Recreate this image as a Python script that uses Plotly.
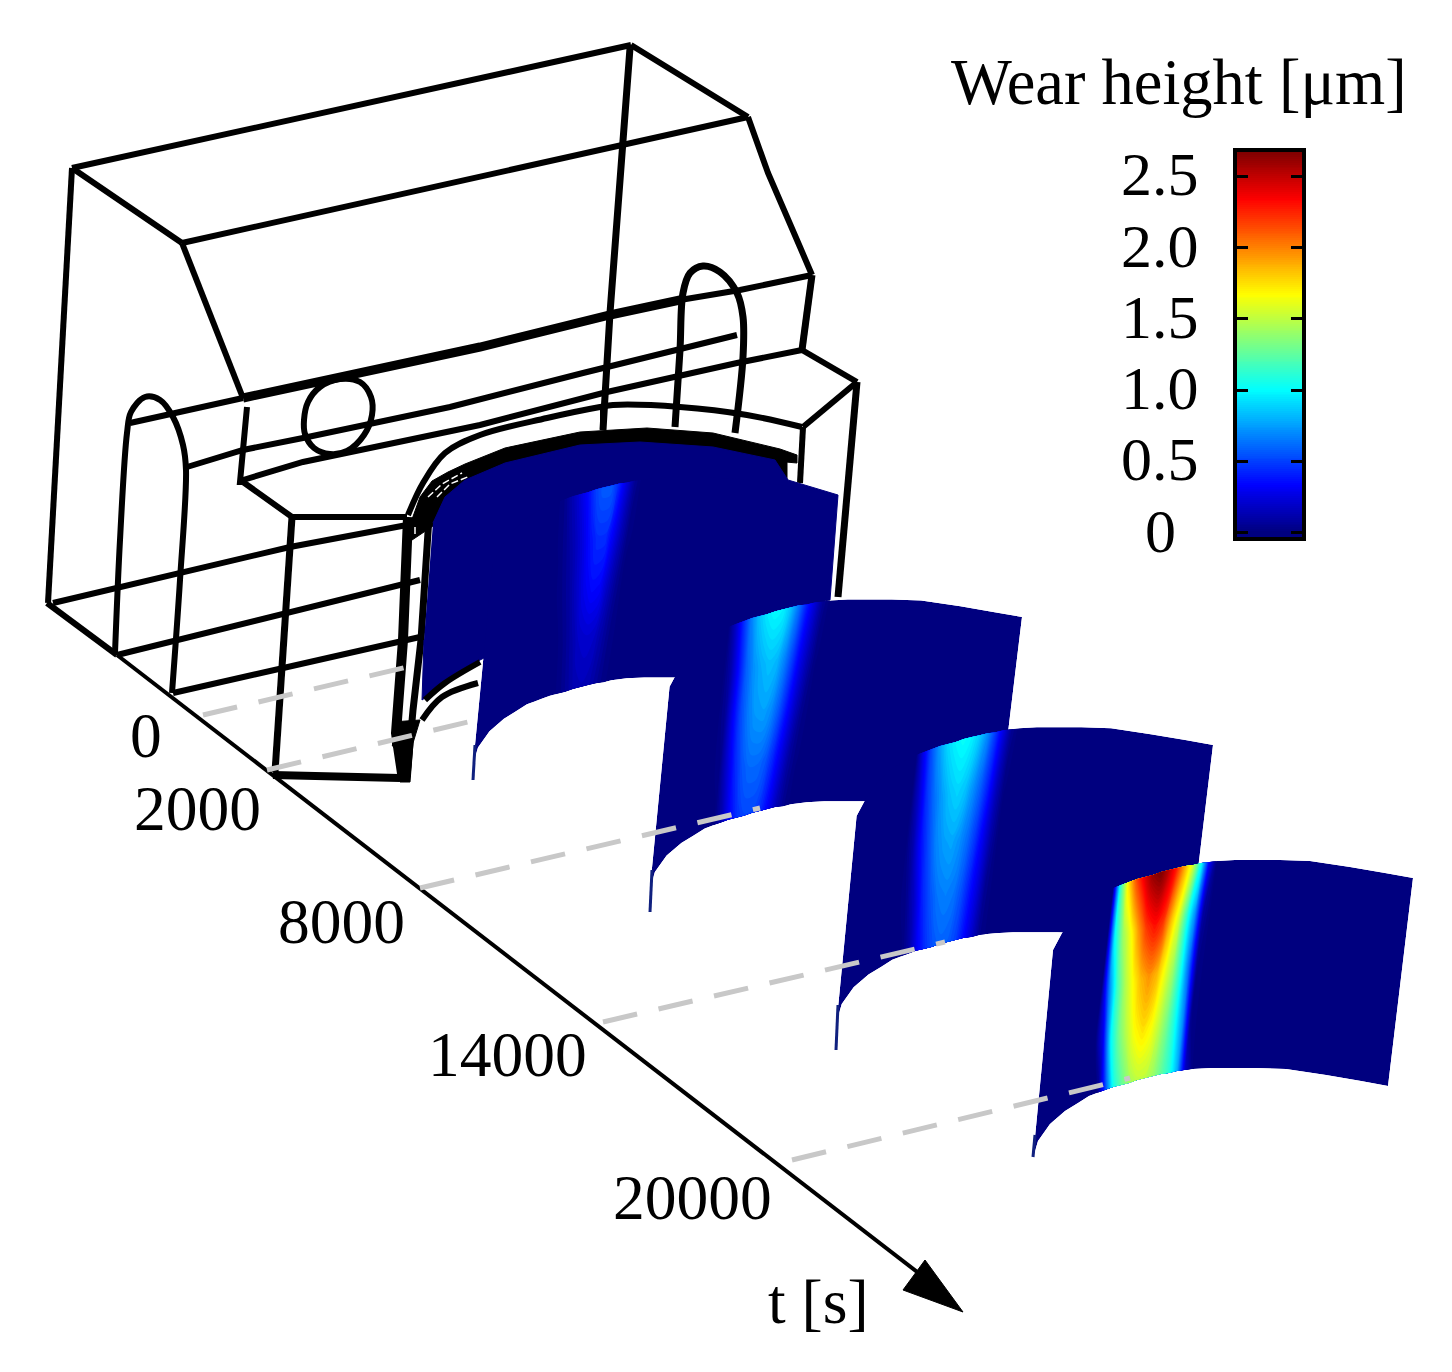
import numpy as np
import plotly.graph_objects as go

# ---- labels and values ----
TIME_LABELS = ["0", "2000", "8000", "14000", "20000"]
TIME_LABEL_X = [146, 197, 341, 507, 692]
TIME_LABEL_Y = [735, 808, 921, 1054, 1197]
CB_TICKS = [0, 0.5, 1.0, 1.5, 2.0, 2.5]
CB_LABELS = ["0", "0.5", "1.0", "1.5", "2.0", "2.5"]
WEAR_MAX = 2.67

# sheet outline (top edge of the 20000 s sheet; other sheets are placed from it)
TOP_X = [1053,1062,1074,1087,1100,1113,1121,1129,1137,1145,1153,1161,1169,1177,1185,1193,1201,1209,1217,1235,1253,1280,1310,1350,1385,1413]
TOP_Y = [950,933,916,903,895,888,885,882,879,877,875,872,870,868,866,865,863,862,861,860,860,860,861,867,873,878]
DROP_X = [-20,-24,-24,-22,-22,-24,-24,-24,-24,-24,-24,-24,-24,-24,-24,-24,-24,-24,-24,-24,-24,-24,-24,-24,-24,-25]
DROP_Y = 208
SHEET_TR = {"2000": (838,495), "8000": (1022,617), "14000": (1213,745), "20000": (1413,878)}
SHEET_SCALE = {"2000": (0.96,0.96), "8000": (0.979,0.97), "14000": (0.99,0.985), "20000": (1,1)}

# wear [um]: rows run top to bottom of a sheet, columns are the stations TOP_X[5:19]
WEAR_2000 = [
 [0,0,.05,.15,.25,.36,.50,.58,.58,.44,.25,.08,0,0],
 [0,0,.02,.08,.16,.26,.38,.46,.46,.32,.16,.03,0,0],
 [0,0,0,.04,.10,.20,.30,.36,.34,.20,.08,0,0,0],
 [0,0,0,0,.05,.12,.20,.22,.20,.12,.04,0,0,0],
 [0,0,0,0,.02,.08,.14,.16,.14,.08,.02,0,0,0]]
WEAR_8000 = [
 [0,.20,.45,.68,.85,.95,1.00,.98,.85,.65,.42,.25,.08,0],
 [0,.12,.35,.58,.72,.80,.85,.82,.68,.50,.30,.15,.02,0],
 [0,.08,.32,.52,.66,.74,.76,.70,.56,.38,.20,.06,0,0],
 [0,.03,.22,.42,.56,.62,.62,.56,.42,.26,.10,.02,0,0],
 [0,0,.12,.32,.46,.52,.52,.46,.32,.16,.05,0,0,0]]
WEAR_14000 = [
 [0,.30,.55,.75,.90,.98,1.02,.98,.88,.72,.50,.28,.08,0],
 [0,.20,.45,.62,.75,.85,.90,.85,.72,.58,.40,.18,.02,0],
 [0,.12,.35,.52,.68,.75,.78,.72,.62,.48,.30,.12,0,0],
 [0,.05,.20,.42,.55,.65,.68,.65,.55,.40,.25,.07,0,0],
 [0,0,.10,.30,.45,.55,.60,.58,.50,.35,.20,.05,0,0]]
WEAR_20000 = [
 [0,1.15,1.75,2.15,2.40,2.60,2.67,2.50,2.25,1.90,1.55,1.05,.35,0],
 [0,1.00,1.40,1.65,1.95,2.20,2.30,2.20,1.85,1.55,1.10,.70,.10,0],
 [0,.65,1.15,1.45,1.67,1.85,1.95,1.85,1.62,1.40,1.05,.60,.05,0],
 [0,.30,1.00,1.30,1.50,1.67,1.75,1.67,1.50,1.30,1.05,.70,.05,0],
 [0,0,.50,1.05,1.25,1.42,1.50,1.50,1.40,1.25,1.10,.80,.20,0]]
WEAR = {"2000": WEAR_2000, "8000": WEAR_8000, "14000": WEAR_14000, "20000": WEAR_20000}
ROW_FRACTIONS = [0, .25, .5, .75, 1]

# t = 0 sheet outline
SHEET0_X = [433,445,465,505,580,640,713,775,788,838,830,500,480,422,424]
SHEET0_Y = [523,497,480,463,445,442,447,460,480,495,600,650,660,700,640]

# sheet tails
TAIL_X = [[475,473],[652,650],[838,836],[1035,1033]]
TAIL_Y = [[745,780],[870,912],[1005,1050],[1135,1157]]

# t-axis
AXIS_THICK = ([47,117],[603,655])
AXIS_THIN = ([117,925],[655,1278])
ARROW_X = [903,963,925,903]
ARROW_Y = [1290,1312,1260,1290]

# dashed leader lines
DASH_LINES = [([203,407],[715,667]), ([267,468],[770,722]), ([420,760],[888,808]),
              ([603,945],[1022,942]), ([792,1130],[1160,1078])]

# holder wireframe: (xs, ys, width, spline)
WIRE = [
 ([48,72],[603,168],6,False),
 ([72,631],[168,45],6,False),
 ([72,182],[168,243],6,False),
 ([182,420,748],[243,190,117],6,False),
 ([631,748],[45,117],6,False),
 ([630,622,610,603],[48,147,313,430],7,False),
 ([748,768,800,812],[117,173,247,275],6,False),
 ([182,243],[243,398],6,False),
 ([130,243],[423,398],6,False),
 ([243,480,610,680],[398,347,315,300],9,False),
 ([680,740,812],[300,290,275],6,False),
 ([115,120,127,131,145,160,173,183,186,180,172],[653,540,433,412,397,400,417,445,470,580,693],6,True),
 ([187,243,303,450,583,737],[467,450,438,407,373,335],6,False),
 ([243,303,480,607,737,802],[480,462,425,392,363,350],6,False),
 ([247,240,243,292,407],[407,482,482,517,517],6,False),
 ([292,275],[517,772],7,False),
 ([273,400],[775,778],8,False),
 ([53,290,407],[603,547,525],6,False),
 ([117,420],[655,580],6,False),
 ([173,300,420],[693,664,637],6,False),
 ([802,857],[350,382],6,False),
 ([857,803],[382,427],6,False),
 ([812,802],[275,350],7,False),
 ([857,838],[382,597],7,False),
 ([803,800],[427,483],6,False),
 ([304,308,320,340,360,371,372,364,347,330,314,305,304],[420,402,387,379,382,397,415,435,451,454,448,434,420],6,True),
 ([675,680,683,690,703,720,737,743,743,735],[427,350,293,273,266,272,293,317,357,433],7,True),
 ([408,423,445,480,547,600,613,680,747,802],[515,483,453,435,418,407,405,407,415,427],6,True),
 ([408,403,396,403],[517,640,733,780],10,False),
 ([429,421,413,407],[517,640,710,777],7,False),
 ([781,781],[460,484],13,False),
 ([603,603],[405,430],6,False),
]
# the heavy arc hugging the top of the t = 0 sheet
ARC_X = [410,420,432,448,465,505,580,647,713,780,797,797,775,713,640,580,505,465,445,433,412]
ARC_Y = [525,497,481,472,464,448,432,428,433,449,455,463,461,448,443,446,464,481,498,526,540]
# drawn over the t = 0 sheet's edge
WIRE_FRONT = [
 ([425,445,480],[700,683,662],6,True),
 ([422,442,478],[720,697,683],6,True),
]
# white slits inside the dense part of the frame
SLIT_LINES = [([428,442,462],[497,484,473]), ([437,450,470],[497,484,476]), ([415,415],[527,537])]
# dark blob where the front frame lines meet
BLOB_X = [392,420,413,410,400,398,392]
BLOB_Y = [722,720,743,782,782,753,745]

JET = [[0,"#00007f"],[.125,"#0000ff"],[.375,"#00ffff"],[.625,"#ffff00"],[.875,"#ff0000"],[1,"#7f0000"]]
FONT = "Liberation Serif"
W, H = 1452, 1372

fig = go.Figure()

for xs, ys, w, spline in WIRE:
    fig.add_trace(go.Scatter(x=xs, y=ys, mode="lines", hoverinfo="skip",
                             line=dict(color="black", width=w, shape="spline" if spline else "linear")))
fig.add_trace(go.Scatter(x=ARC_X, y=ARC_Y, mode="lines", fill="toself", fillcolor="black", hoverinfo="skip", line=dict(color="black", width=1)))
for xs, ys in SLIT_LINES:
    fig.add_trace(go.Scatter(x=xs, y=ys, mode="lines", hoverinfo="skip", line=dict(color="white", width=1.5, dash="7px,3px")))
fig.add_trace(go.Scatter(x=BLOB_X, y=BLOB_Y, mode="lines", fill="toself", fillcolor="black", hoverinfo="skip", line=dict(color="black", width=1)))
fig.add_trace(go.Scatter(x=AXIS_THICK[0], y=AXIS_THICK[1], mode="lines", hoverinfo="skip", line=dict(color="black", width=6)))
fig.add_trace(go.Scatter(x=AXIS_THIN[0], y=AXIS_THIN[1], mode="lines", hoverinfo="skip", line=dict(color="black", width=4)))
fig.add_trace(go.Scatter(x=ARROW_X, y=ARROW_Y, mode="lines", fill="toself", fillcolor="black", hoverinfo="skip", line=dict(color="black", width=1)))
fig.add_trace(go.Scatter(x=SHEET0_X, y=SHEET0_Y, mode="lines", fill="toself", fillcolor="#00007f", hoverinfo="skip", line=dict(color="#00007f", width=1)))
for xs, ys, w, spline in WIRE_FRONT:
    fig.add_trace(go.Scatter(x=xs, y=ys, mode="lines", hoverinfo="skip",
                             line=dict(color="black", width=w, shape="spline" if spline else "linear")))

# wear sheets on an overlaid pair of axes so they hide the wireframe
tx, ty, dx = np.array(TOP_X, float), np.array(TOP_Y, float), np.array(DROP_X, float)
for name in ["2000", "8000", "14000", "20000"]:
    (trx, tr_y), (sx, sy) = SHEET_TR[name], SHEET_SCALE[name]
    top_x = trx + (tx - TOP_X[-1]) * sx
    top_y = tr_y + (ty - TOP_Y[-1]) * sy
    gx = np.array([top_x + f * dx * sx for f in ROW_FRACTIONS])
    gy = np.array([top_y + f * DROP_Y * sy for f in ROW_FRACTIONS])
    z = np.zeros(gx.shape)
    z[:, 5:19] = np.array(WEAR[name])
    a = list(range(gx.shape[1]))
    b = list(range(gx.shape[0]))
    cid = "c" + name
    fig.add_trace(go.Carpet(carpet=cid, a=a, b=b, x=gx.tolist(), y=gy.tolist(), xaxis="x2", yaxis="y2",
                            aaxis=dict(showgrid=False, showticklabels="none", showline=False, startline=False, endline=False, smoothing=0, minorgridcount=0),
                            baxis=dict(showgrid=False, showticklabels="none", showline=False, startline=False, endline=False, smoothing=0, minorgridcount=0)))
    fig.add_trace(go.Contourcarpet(carpet=cid, a=a, b=b, z=z.tolist(), xaxis="x2", yaxis="y2",
                                   autocontour=False, colorscale=JET, zmin=0, zmax=WEAR_MAX, showscale=False,
                                   contours=dict(start=0.015, end=WEAR_MAX, size=0.03, coloring="fill", showlines=False),
                                   line=dict(width=0)))
for xs, ys in zip(TAIL_X, TAIL_Y):
    fig.add_trace(go.Scatter(x=xs, y=ys, mode="lines", xaxis="x2", yaxis="y2", hoverinfo="skip", line=dict(color="#10207f", width=3)))

# dashed leaders on top
for xs, ys in DASH_LINES:
    fig.add_trace(go.Scatter(x=xs, y=ys, mode="lines", xaxis="x3", yaxis="y3", hoverinfo="skip",
                             line=dict(color="#c8c8c8", width=5, dash="35px,22px")))

# colour bar
levels = np.linspace(-0.04, WEAR_MAX, 200)
fig.add_trace(go.Heatmap(z=[[v] for v in levels], x=[0], y=levels.tolist(), xaxis="x4", yaxis="y4", colorscale=JET,
                         zmin=0, zmax=WEAR_MAX, showscale=False, hoverinfo="skip"))

hidden = dict(visible=False, range=[0, W], autorange=False, fixedrange=True)
hiddeny = dict(visible=False, range=[H, 0], autorange=False, fixedrange=True)
ann = []
for t, x, y in zip(TIME_LABELS, TIME_LABEL_X, TIME_LABEL_Y):
    ann.append(dict(text=t, x=x, y=y, xref="x", yref="y", showarrow=False, font=dict(family=FONT, size=63.5, color="black")))
ann.append(dict(text="t [s]", x=818, y=1301, xref="x", yref="y", showarrow=False, font=dict(family=FONT, size=63.5, color="black")))
ann.append(dict(text="Wear height [μm]", x=1179, y=82, xref="x", yref="y", showarrow=False, font=dict(family=FONT, size=64.5, color="black")))
for v, t in zip(CB_TICKS, CB_LABELS):
    ann.append(dict(text=t, x=1160, y=v, yshift=2, xref="x", yref="y4", showarrow=False, font=dict(family=FONT, size=62, color="black")))

fig.update_layout(
    width=W, height=H, margin=dict(l=0, r=0, t=0, b=0), paper_bgcolor="white", plot_bgcolor="rgba(0,0,0,0)",
    showlegend=False, annotations=ann, hovermode=False,
    xaxis=dict(domain=[0, 1], **hidden), yaxis=dict(domain=[0, 1], **hiddeny),
    xaxis2=dict(overlaying="x", **hidden), yaxis2=dict(overlaying="y", **hiddeny),
    xaxis3=dict(overlaying="x", **hidden), yaxis3=dict(overlaying="y", **hiddeny),
    xaxis4=dict(domain=[1237/W, 1302/W], anchor="y4", range=[-.5, .5], showticklabels=False, ticks="", showgrid=False,
                zeroline=False, showline=True, linewidth=4, linecolor="black", mirror=True, fixedrange=True),
    yaxis4=dict(domain=[1-537/H, 1-152/H], anchor="x4", range=[-0.03, WEAR_MAX], tickvals=CB_TICKS, ticks="inside", ticklen=11,
                tickwidth=3, tickcolor="black", showticklabels=False, showgrid=False, zeroline=False,
                showline=True, linewidth=4, linecolor="black", mirror="ticks", fixedrange=True),
)
fig.write_html("out.html", post_script="document.body.style.margin='0';", config=dict(displayModeBar=False))
